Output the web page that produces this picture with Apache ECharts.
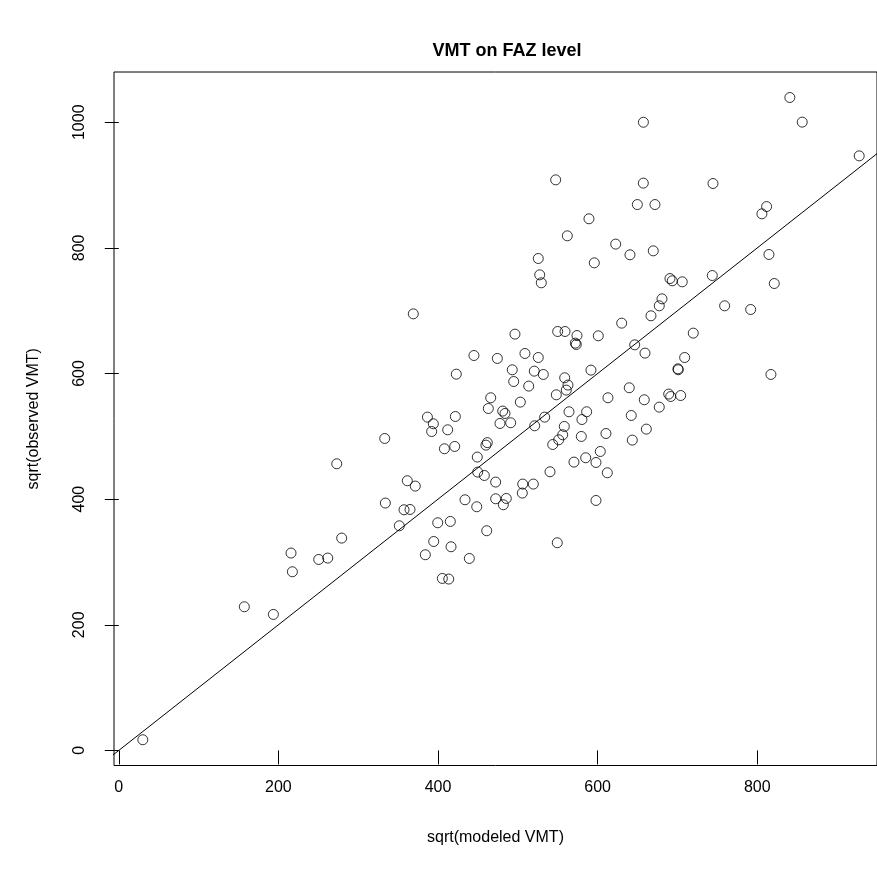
<!DOCTYPE html>
<html>
<head>
<meta charset="utf-8">
<title>VMT on FAZ level</title>
<script src="https://cdn.jsdelivr.net/npm/echarts@6/dist/echarts.min.js"></script>
<style>
  html, body { margin: 0; padding: 0; background: #ffffff; }
  #main { width: 877px; height: 875px; }
</style>
</head>
<body>
<div id="main"></div>
<script>
// sqrt(modeled VMT) for each FAZ
var modeledVMT = [
  927.7, 547.4, 657.2, 744.5, 649.7, 671.8, 811.7, 805.8, 589.1, 562.0,
  622.6, 669.7, 640.5, 814.6, 525.6, 595.8, 527.4, 529.4, 690.6, 693.5,
  706.0, 743.6, 821.3, 680.6, 677.2, 759.1, 791.7, 666.8, 630.1, 719.8,
  496.4, 549.9, 559.1, 574.1, 572.0, 573.2, 600.8, 646.4, 659.3, 709.0,
  700.6, 701.0, 817.1, 474.3, 508.9, 525.6, 493.0, 520.6, 531.9, 494.8,
  513.6, 558.7, 562.8, 560.7, 591.6, 548.2, 466.0, 463.0, 481.0, 483.9,
  503.1, 477.6, 491.0, 521.1, 533.6, 564.1, 586.2, 580.3, 612.9, 639.6,
  658.4, 689.0, 691.5, 704.0, 677.2, 642.1, 661.0, 558.2, 556.2, 551.2,
  543.7, 579.5, 610.4, 643.4, 461.7, 460.0,
  369.0, 445.0, 422.9, 386.7, 394.1, 392.0, 421.7, 412.1, 333.2,
  408.0, 420.9, 449.2, 449.7, 458.0, 273.1, 361.5, 371.5, 334.0, 357.4,
  364.9, 351.5, 433.8, 448.5, 399.6, 415.4, 461.0, 394.6, 416.3, 384.1,
  439.2, 405.4, 413.4, 279.3, 215.8, 217.5, 250.5, 261.8, 157.3, 193.7,
  30.1,
  472.2, 506.1, 519.4, 505.6, 472.2, 485.5, 481.8, 540.3, 570.3, 585.0,
  597.9, 603.3, 612.1, 597.9, 549.4,
  657.3, 840.8, 856.3
];

// sqrt(observed VMT) for each FAZ, same order
var observedVMT = [
  946.5, 908.3, 903.1, 902.5, 869.0, 869.0, 865.8, 854.2, 846.3, 819.2,
  806.0, 795.3, 789.0, 789.5, 783.1, 776.2, 757.1, 744.4, 751.2, 747.6,
  746.0, 756.0, 743.3, 718.9, 707.8, 707.8, 701.9, 691.9, 680.2, 664.3,
  662.7, 666.9, 666.9, 660.5, 648.4, 646.2, 660.0, 645.7, 632.5, 625.5,
  607.5, 606.0, 598.5, 624.0, 631.9, 625.5, 605.9, 603.8, 598.5, 587.3,
  580.0, 593.2, 581.6, 573.6, 605.4, 566.1, 561.4, 544.3, 540.2, 536.4,
  554.5, 520.5, 521.6, 516.8, 530.6, 539.1, 539.1, 526.8, 561.4, 577.3,
  558.2, 567.3, 563.4, 565.0, 546.5, 533.2, 511.5, 515.7, 502.5, 494.5,
  487.0, 499.8, 504.5, 494.0, 490.0, 486.0,
  695.0, 628.7, 599.0, 530.6, 520.0, 507.7, 531.6, 510.4, 496.6,
  480.2, 483.9, 467.0, 443.1, 437.7, 456.3, 429.3, 420.8, 393.8, 383.1,
  383.6, 357.6, 399.0, 387.9, 362.4, 364.5, 349.7, 332.6, 324.2, 311.5,
  305.6, 273.8, 272.8, 338.0, 314.2, 284.4, 304.0, 306.2, 228.7, 216.5,
  17.0,
  427.2, 424.0, 424.0, 409.7, 400.6, 401.1, 391.1, 443.6, 459.0, 465.9,
  458.4, 475.9, 442.0, 397.9, 330.6,
  1000.0, 1039.4, 1000.2
];

// reference line y = x
var lineX = [-50, 1100];
var lineY = [-50, 1100];

// tick labels
var xTicks = [0, 200, 400, 600, 800];
var yTicks = [0, 200, 400, 600, 800, 1000];

var points = [];
for (var i = 0; i < modeledVMT.length; i++) {
  points.push([modeledVMT[i], observedVMT[i]]);
}
var linePts = [];
for (var j = 0; j < lineX.length; j++) {
  linePts.push([lineX[j], lineY[j]]);
}

var chart = echarts.init(document.getElementById('main'));

var fontName = 'Liberation Sans, Arial, sans-serif';

// plain numbers, no thousands separator
function plainLabel(val) {
  return String(val);
}

var option = {
  backgroundColor: '#ffffff',
  animation: false,
  title: {
    text: 'VMT on FAZ level',
    left: 502,
    top: 37,
    textAlign: 'center',
    textStyle: {
      fontFamily: fontName,
      fontWeight: 'bold',
      fontSize: 18,
      color: '#000000'
    }
  },
  grid: {
    left: 114,
    top: 72,
    right: 0,
    bottom: 109.5,
    show: true,
    borderColor: '#000000',
    borderWidth: 1,
    backgroundColor: 'transparent'
  },
  xAxis: {
    type: 'value',
    min: -6,
    max: 950,
    name: 'sqrt(modeled VMT)',
    nameLocation: 'middle',
    nameGap: 64,
    nameTextStyle: { fontFamily: fontName, fontSize: 16, color: '#000000' },
    splitLine: { show: false },
    axisLine: { show: false },
    axisTick: {
      show: true,
      length: 14,
      customValues: xTicks,
      lineStyle: { color: '#000000', width: 1 }
    },
    axisLabel: {
      customValues: xTicks,
      formatter: plainLabel,
      margin: 14,
      fontFamily: fontName,
      fontSize: 16,
      color: '#000000'
    }
  },
  yAxis: {
    type: 'value',
    min: -24,
    max: 1080,
    name: 'sqrt(observed VMT)',
    nameLocation: 'middle',
    nameGap: 72,
    nameTextStyle: { fontFamily: fontName, fontSize: 16, color: '#000000' },
    splitLine: { show: false },
    axisLine: { show: false },
    axisTick: {
      show: true,
      length: 14,
      customValues: yTicks,
      lineStyle: { color: '#000000', width: 1 }
    },
    axisLabel: {
      customValues: yTicks,
      formatter: plainLabel,
      rotate: 90,
      margin: 26,
      fontFamily: fontName,
      fontSize: 16,
      color: '#000000'
    }
  },
  series: [
    {
      name: 'FAZ',
      type: 'scatter',
      data: points,
      symbol: 'circle',
      symbolSize: 10,
      itemStyle: {
        color: 'transparent',
        borderColor: '#000000',
        borderWidth: 1
      }
    },
    {
      name: 'y = x',
      type: 'line',
      data: linePts,
      clip: true,
      showSymbol: false,
      symbol: 'none',
      lineStyle: { color: '#000000', width: 1 }
    }
  ]
};

chart.setOption(option);
</script>
</body>
</html>
